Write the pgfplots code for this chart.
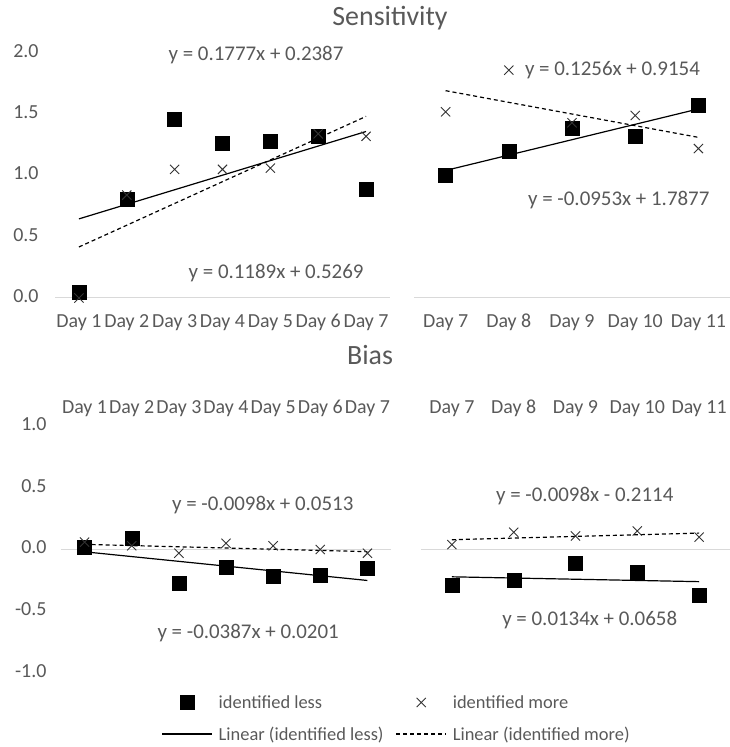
\documentclass[border=0pt]{standalone}
\usepackage{pgfplots}
\pgfplotsset{compat=1.18}
\usepackage{fontspec}
\setmainfont{Carlito}
\definecolor{txt}{HTML}{595959}
\definecolor{axl}{HTML}{D9D9D9}
\pgfplotsset{
  panel/.style={
    scale only axis, clip=false,
    axis line style={draw=none},
    tick style={draw=none},
    typeset ticklabels with strut,
    ticklabel style={font=\fontsize{20}{22}\selectfont, text=txt},
  },
  sq/.style={only marks, mark=square*, mark size=7bp, black},
  cr/.style={only marks, mark=x, mark size=6.5bp, black!80, mark options={line width=0.9bp}},
  tl/.style={black, line width=1.2bp, no marks},
  td/.style={black, line width=1.2bp, no marks, dash pattern=on 4bp off 3bp},
  legmark/.style={legend image code/.code={\draw[mark repeat=2,mark phase=2,##1] plot coordinates {(0bp,0bp) (25bp,0bp) (50bp,0bp)};}},
  legline/.style={legend image code/.code={\draw[##1] (0bp,0bp) -- (50bp,0bp);}},
}
\tikzset{eq/.style={text=txt, font=\fontsize{21}{24}\selectfont}}
\begin{document}
\begin{tikzpicture}
\useasboundingbox (0bp,0bp) rectangle (730bp,747bp);
\node[text=txt, font=\fontsize{28}{32}\selectfont] at (390bp,729bp) {Sensitivity};
\node[text=txt, font=\fontsize{28}{32}\selectfont] at (370bp,392bp) {Bias};

% Sensitivity, Day 1-7
\begin{axis}[panel, at={(55bp,449bp)}, anchor=south west, width=335bp, height=245bp,
  xmin=0.5, xmax=7.5, ymin=0, ymax=2,
  xticklabel style={yshift=-11bp}, yticklabel style={xshift=-13bp},
  xtick={1,...,7}, xticklabels={Day 1,Day 2,Day 3,Day 4,Day 5,Day 6,Day 7},
  ytick={0,0.5,1,1.5,2}, yticklabels={0.0,0.5,1.0,1.5,2.0}]
\draw[axl, line width=1bp] (axis cs:0.5,0) -- (axis cs:7.5,0);
\addplot[sq] coordinates {(1,0.05) (2,0.81) (3,1.46) (4,1.26) (5,1.28) (6,1.32) (7,0.89)};
\addplot[cr] coordinates {(1,0.00) (2,0.84) (3,1.05) (4,1.05) (5,1.06) (6,1.34) (7,1.32)};
\addplot[tl] coordinates {(1,0.6458) (7,1.3592)};
\addplot[td] coordinates {(1,0.4164) (7,1.4826)};
\node[eq] at (axis cs:4.7,1.98) {y = 0.1777x + 0.2387};
\node[eq] at (axis cs:5.12,0.20) {y = 0.1189x + 0.5269};
\end{axis}

% Sensitivity, Day 7-11
\begin{axis}[panel, at={(414bp,449bp)}, anchor=south west, width=316bp, height=245bp,
  xmin=0.5, xmax=5.5, ymin=0, ymax=2,
  xticklabel style={yshift=-11bp},
  xtick={1,...,5}, xticklabels={Day 7,Day 8,Day 9,Day 10,Day 11},
  ytick=\empty]
\draw[axl, line width=1bp] (axis cs:0.5,0) -- (axis cs:5.5,0);
\addplot[sq] coordinates {(1,1.00) (2,1.20) (3,1.39) (4,1.32) (5,1.57)};
\addplot[cr] coordinates {(1,1.52) (2,1.86) (3,1.43) (4,1.49) (5,1.22)};
\addplot[tl] coordinates {(1,1.0410) (5,1.5434)};
\addplot[td] coordinates {(1,1.6924) (5,1.3112)};
\node[eq] at (axis cs:3.64,1.86) {y = 0.1256x + 0.9154};
\node[eq] at (axis cs:3.74,0.80) {y = -0.0953x + 1.7877};
\end{axis}

% Bias, Day 1-7
\begin{axis}[panel, at={(61bp,74bp)}, anchor=south west, width=330bp, height=247bp,
  xmin=0.5, xmax=7.5, ymin=-1, ymax=1,
  xticklabel pos=upper,
  xticklabel style={yshift=2bp}, yticklabel style={xshift=-11bp},
  xtick={1,...,7}, xticklabels={Day 1,Day 2,Day 3,Day 4,Day 5,Day 6,Day 7},
  ytick={-1,-0.5,0,0.5,1}, yticklabels={-1.0,-0.5,0.0,0.5,1.0},
  legend columns=2, legend cell align=left,
  legend style={at={(1.017,-0.184)}, anchor=center, draw=none, fill=none,
    font=\fontsize{18.5}{20}\selectfont, text=txt,
    /tikz/every odd column/.append style={column sep=4bp},
    /tikz/every even column/.append style={column sep=10bp}, row sep=13bp}]
\draw[axl, line width=1bp] (axis cs:0.5,0) -- (axis cs:7.5,0);
\addplot[sq, legmark]
  coordinates {(1,0.02) (2,0.09) (3,-0.27) (4,-0.14) (5,-0.22) (6,-0.21) (7,-0.15)};
\addlegendentry{identified less}
\addplot[cr, legmark]
  coordinates {(1,0.06) (2,0.03) (3,-0.03) (4,0.05) (5,0.03) (6,0.00) (7,-0.03)};
\addlegendentry{identified more}
\addplot[tl, legline]
  coordinates {(1,-0.0186) (7,-0.2508)};
\addlegendentry{Linear (identified less)}
\addplot[td, legline]
  coordinates {(1,0.0415) (7,-0.0173)};
\addlegendentry{Linear (identified more)}
\node[eq] at (axis cs:4.78,0.356) {y = -0.0098x + 0.0513};
\node[eq] at (axis cs:4.47,-0.68) {y = -0.0387x + 0.0201};
\end{axis}

% Bias, Day 7-11
\begin{axis}[panel, at={(421bp,74bp)}, anchor=south west, width=309bp, height=247bp,
  xmin=0.5, xmax=5.5, ymin=-1, ymax=1,
  xticklabel pos=upper,
  xticklabel style={yshift=2bp},
  xtick={1,...,5}, xticklabels={Day 7,Day 8,Day 9,Day 10,Day 11},
  ytick=\empty]
\draw[axl, line width=1bp] (axis cs:0.5,0) -- (axis cs:5.5,0);
\addplot[sq] coordinates {(1,-0.29) (2,-0.25) (3,-0.11) (4,-0.18) (5,-0.37)};
\addplot[cr] coordinates {(1,0.04) (2,0.14) (3,0.11) (4,0.15) (5,0.10)};
\addplot[tl] coordinates {(1,-0.2212) (5,-0.2604)};
\addplot[td] coordinates {(1,0.0792) (5,0.1328)};
\node[eq] at (axis cs:3.15,0.43) {y = -0.0098x - 0.2114};
\node[eq] at (axis cs:3.23,-0.57) {y = 0.0134x + 0.0658};
\end{axis}
\end{tikzpicture}
\end{document}
